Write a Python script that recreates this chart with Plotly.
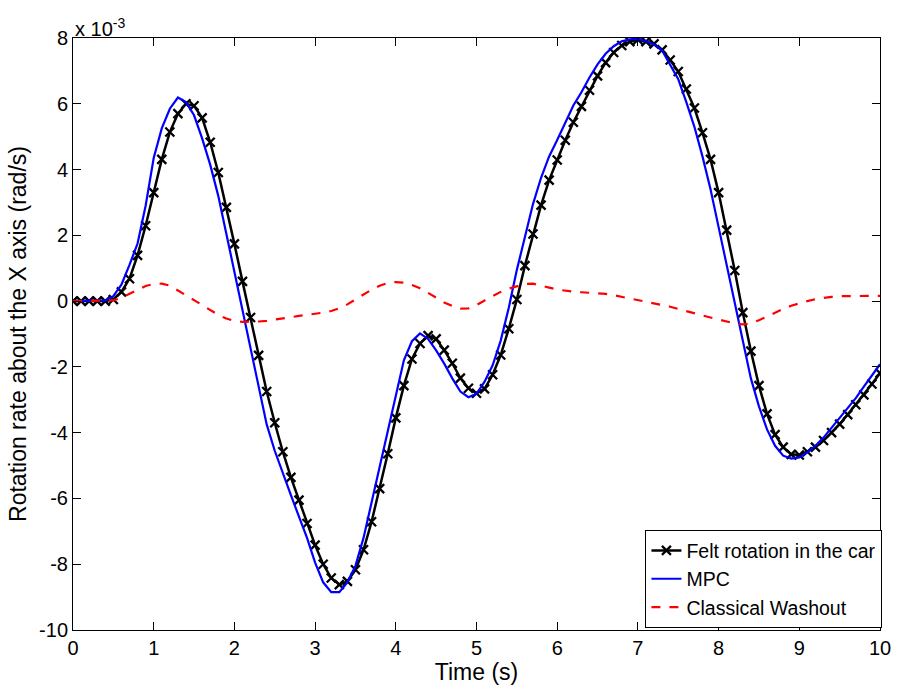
import plotly.graph_objects as go

# time axis (s)
time = [round(i * 0.1, 1) for i in range(101)]

# values in units of 1e-3 rad/s
felt = [0, 0, 0, 0, 0, 0.05, 0.28, 0.68, 1.39, 2.29,
        3.30, 4.31, 5.14, 5.70, 6.00, 5.94, 5.57, 4.83, 3.91, 2.85,
        1.74, 0.60, -0.50, -1.65, -2.75, -3.70, -4.58, -5.36, -6.05, -6.76,
        -7.42, -8.00, -8.42, -8.62, -8.52, -8.17, -7.56, -6.71, -5.70, -4.64,
        -3.55, -2.57, -1.76, -1.29, -1.05, -1.15, -1.49, -1.89, -2.34, -2.65,
        -2.80, -2.67, -2.24, -1.64, -0.84, 0.05, 1.08, 2.04, 2.92, 3.68,
        4.29, 4.89, 5.44, 5.92, 6.41, 6.85, 7.25, 7.56, 7.77, 7.89,
        7.95, 7.89, 7.82, 7.64, 7.33, 6.98, 6.45, 5.87, 5.12, 4.31,
        3.30, 2.16, 0.93, -0.35, -1.52, -2.57, -3.43, -4.06, -4.44, -4.66,
        -4.68, -4.58, -4.44, -4.24, -4.00, -3.74, -3.45, -3.15, -2.85, -2.52,
        -2.19]

mpc = [0, 0, 0, 0, 0.02, 0.15, 0.50, 1.10, 1.75, 2.90,
       4.35, 5.25, 5.85, 6.19, 6.05, 5.65, 4.95, 4.15, 3.20, 2.05,
       0.90, -0.27, -1.45, -2.65, -3.75, -4.55, -5.25, -5.90, -6.55, -7.20,
       -7.95, -8.55, -8.85, -8.85, -8.55, -8.05, -7.20, -6.10, -5.00, -3.95,
       -2.85, -1.80, -1.22, -0.98, -1.15, -1.50, -1.90, -2.35, -2.75, -2.92,
       -2.82, -2.45, -1.95, -1.20, -0.20, 0.95, 1.95, 2.95, 3.75, 4.40,
       4.90, 5.45, 5.95, 6.35, 6.80, 7.20, 7.52, 7.75, 7.90, 7.96,
       7.97, 7.90, 7.80, 7.62, 7.20, 6.75, 6.05, 5.30, 4.40, 3.40,
       2.25, 1.10, -0.05, -1.30, -2.35, -3.20, -3.90, -4.40, -4.70, -4.79,
       -4.75, -4.60, -4.40, -4.15, -3.85, -3.55, -3.25, -2.95, -2.60, -2.25,
       -1.92]

washout = [0, 0, 0, 0, 0, 0.02, 0.10, 0.22, 0.35, 0.46,
           0.52, 0.53, 0.47, 0.33, 0.18, 0.03, -0.12, -0.28, -0.42, -0.53,
           -0.60, -0.63, -0.63, -0.62, -0.60, -0.56, -0.51, -0.47, -0.45, -0.42,
           -0.39, -0.35, -0.30, -0.22, -0.10, 0.05, 0.20, 0.35, 0.47, 0.55,
           0.58, 0.56, 0.49, 0.39, 0.25, 0.10, -0.04, -0.15, -0.23, -0.22,
           -0.12, 0.02, 0.15, 0.28, 0.38, 0.46, 0.52, 0.53, 0.48, 0.41,
           0.35, 0.31, 0.29, 0.27, 0.26, 0.24, 0.22, 0.18, 0.13, 0.08,
           0.04, 0.00, -0.05, -0.11, -0.17, -0.24, -0.31, -0.37, -0.44, -0.50,
           -0.56, -0.62, -0.68, -0.71, -0.68, -0.58, -0.46, -0.35, -0.24, -0.14,
           -0.06, 0.00, 0.06, 0.10, 0.13, 0.15, 0.15, 0.16, 0.16, 0.16,
           0.16]

x_ticks = [0, 1, 2, 3, 4, 5, 6, 7, 8, 9, 10]
x_labels = ["0", "1", "2", "3", "4", "5", "6", "7", "8", "9", "10"]
y_ticks = [-10, -8, -6, -4, -2, 0, 2, 4, 6, 8]
y_labels = ["-10", "-8", "-6", "-4", "-2", "0", "2", "4", "6", "8"]

FONT = "Liberation Sans, Arial, sans-serif"
TICK_SIZE = 20
TITLE_SIZE = 23
LEGEND_SIZE = 19.5

fig = go.Figure()
fig.add_trace(go.Scatter(
    x=time, y=felt, mode="lines+markers", name="Felt rotation in the car",
    line=dict(color="black", width=2.5),
    marker=dict(symbol="x-thin", size=9, color="black",
                line=dict(color="black", width=2.3)),
))
fig.add_trace(go.Scatter(
    x=time, y=mpc, mode="lines", name="MPC",
    line=dict(color="#0000ff", width=2.2),
))
fig.add_trace(go.Scatter(
    x=time, y=washout, mode="lines", name="Classical Washout",
    line=dict(color="#ff0000", width=2.2, dash="dash"),
))

axis_common = dict(
    showgrid=False, zeroline=False,
    showline=True, linecolor="black", linewidth=1, mirror="ticks",
    ticks="inside", ticklen=8, tickcolor="black", tickwidth=1,
    tickfont=dict(family=FONT, size=TICK_SIZE, color="black"),
)

fig.update_layout(
    width=903, height=687,
    margin=dict(l=73, r=14, t=38, b=54),
    paper_bgcolor="white", plot_bgcolor="white",
    font=dict(family=FONT, size=TICK_SIZE, color="black"),
    xaxis=dict(range=[0, 10], tickvals=x_ticks, ticktext=x_labels,
               title=dict(text="Time (s)", font=dict(family=FONT, size=TITLE_SIZE), standoff=0),
               **axis_common),
    yaxis=dict(range=[-10, 8], tickvals=y_ticks, ticktext=y_labels,
               title=dict(text="Rotation rate about the X axis (rad/s)",
                          font=dict(family=FONT, size=TITLE_SIZE), standoff=6),
               **axis_common),
    legend=dict(x=1.003, y=0.003, xanchor="right", yanchor="bottom",
                bgcolor="white", bordercolor="black", borderwidth=1,
                font=dict(family=FONT, size=LEGEND_SIZE, color="black"),
                tracegroupgap=0, itemwidth=30),
    showlegend=True,
)

fig.add_annotation(
    text="x 10<sup>-3</sup>", xref="paper", yref="paper", x=0, y=1,
    xanchor="left", yanchor="bottom", showarrow=False,
    font=dict(family=FONT, size=TICK_SIZE, color="black"), yshift=-4,
)

fig.write_html("out.html")
